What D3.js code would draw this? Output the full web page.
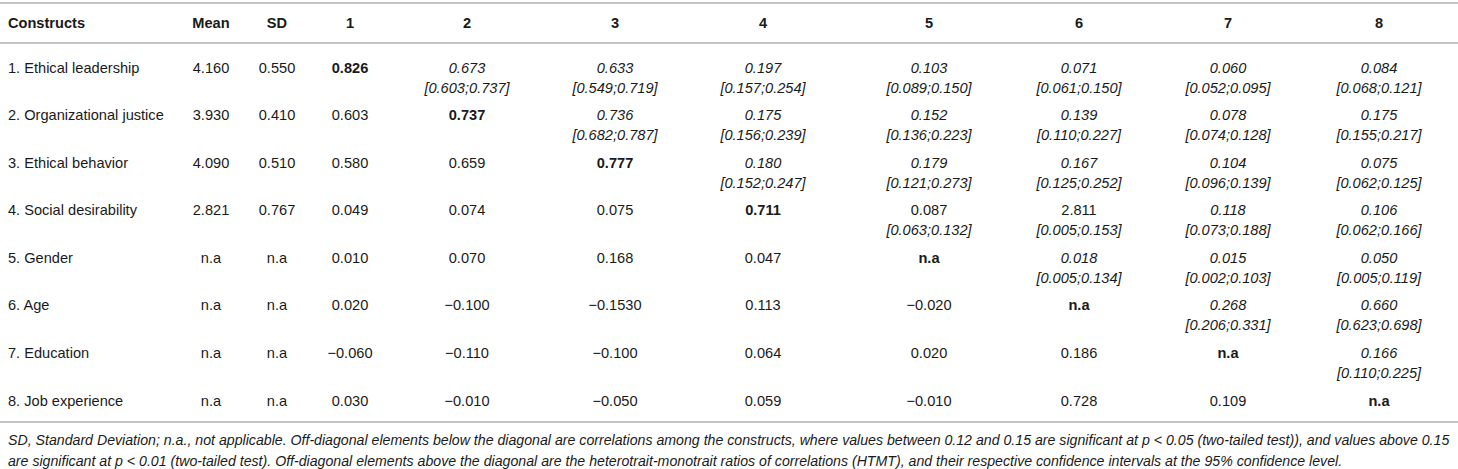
<!DOCTYPE html>
<html>
<head>
<meta charset="utf-8">
<script src="https://cdn.jsdelivr.net/npm/d3@7"></script>
<style>
  html, body { margin: 0; padding: 0; background: #fff; }
  svg { display: block; font-family: "Liberation Sans", Arial, Helvetica, sans-serif; }
</style>
</head>
<body>
<svg id="chart" width="1458" height="469"></svg>
<script>
// ---------- data ----------
const headers = ["Constructs", "Mean", "SD", "1", "2", "3", "4", "5", "6", "7", "8"];
const constructs = ["1. Ethical leadership", "2. Organizational justice", "3. Ethical behavior",
  "4. Social desirability", "5. Gender", "6. Age", "7. Education", "8. Job experience"];
const means = ["4.160", "3.930", "4.090", "2.821", "n.a", "n.a", "n.a", "n.a"];
const sds = ["0.550", "0.410", "0.510", "0.767", "n.a", "n.a", "n.a", "n.a"];
const diagonal = ["0.826", "0.737", "0.777", "0.711", "n.a", "n.a", "n.a", "n.a"];
// correlations below the diagonal (row i, columns 1..i-1)
const lowerCorr = [
  [],
  ["0.603"],
  ["0.580", "0.659"],
  ["0.049", "0.074", "0.075"],
  ["0.010", "0.070", "0.168", "0.047"],
  ["0.020", "\u22120.100", "\u22120.1530", "0.113", "\u22120.020"],
  ["\u22120.060", "\u22120.110", "\u22120.100", "0.064", "0.020", "0.186"],
  ["0.030", "\u22120.010", "\u22120.050", "0.059", "\u22120.010", "0.728", "0.109"]
];
// HTMT ratios above the diagonal (row i, columns i+1..8)
const htmtValues = [
  ["0.673", "0.633", "0.197", "0.103", "0.071", "0.060", "0.084"],
  ["0.736", "0.175", "0.152", "0.139", "0.078", "0.175"],
  ["0.180", "0.179", "0.167", "0.104", "0.075"],
  ["0.087", "2.811", "0.118", "0.106"],
  ["0.018", "0.015", "0.050"],
  ["0.268", "0.660"],
  ["0.166"],
  []
];
const htmtCI = [
  ["[0.603;0.737]", "[0.549;0.719]", "[0.157;0.254]", "[0.089;0.150]", "[0.061;0.150]", "[0.052;0.095]", "[0.068;0.121]"],
  ["[0.682;0.787]", "[0.156;0.239]", "[0.136;0.223]", "[0.110;0.227]", "[0.074;0.128]", "[0.155;0.217]"],
  ["[0.152;0.247]", "[0.121;0.273]", "[0.125;0.252]", "[0.096;0.139]", "[0.062;0.125]"],
  ["[0.063;0.132]", "[0.005;0.153]", "[0.073;0.188]", "[0.062;0.166]"],
  ["[0.005;0.134]", "[0.002;0.103]", "[0.005;0.119]"],
  ["[0.206;0.331]", "[0.623;0.698]"],
  ["[0.110;0.225]"],
  []
];
// HTMT values printed upright (not italic) in the source
const uprightHtmt = ["4-5", "4-6"];
const footnote = [
  "SD, Standard Deviation; n.a., not applicable. Off-diagonal elements below the diagonal are correlations among the constructs, where values between 0.12 and 0.15 are significant at p < 0.05 (two-tailed test)), and values above 0.15",
  "are significant at p < 0.01 (two-tailed test). Off-diagonal elements above the diagonal are the heterotrait-monotrait ratios of correlations (HTMT), and their respective confidence intervals at the 95% confidence level."
];

// ---------- layout ----------
const W = 1458;
const fontSize = 14.6;
const textColor = "#1a1a1a";
const ruleColor = "#c4c4c4";
const colCenters = [null, 211, 277, 350, 467, 615, 763, 929, 1079, 1228, 1379];
const xCol = d3.scaleOrdinal().domain(headers).range(colCenters);
const yRow = d3.scalePoint().domain(constructs).range([67.5, 400.5]);
const headerY = 23;
const lineGap = 20;

const svg = d3.select("#chart");

// rules
const rules = [3, 43, 422];
svg.selectAll("line.rule").data(rules).join("line")
  .attr("class", "rule")
  .attr("x1", 0).attr("x2", W)
  .attr("y1", d => d).attr("y2", d => d)
  .attr("stroke", ruleColor).attr("stroke-width", 2);

// header
svg.selectAll("text.hdr").data(headers).join("text")
  .attr("class", "hdr")
  .attr("x", (d, i) => i === 0 ? 8 : xCol(d))
  .attr("y", headerY).attr("dy", "0.35em")
  .attr("text-anchor", (d, i) => i === 0 ? "start" : "middle")
  .attr("font-size", fontSize).attr("font-weight", "bold")
  .attr("fill", textColor)
  .text(d => d);

// build cells
const cells = [];
constructs.forEach((c, i) => {
  cells.push({ row: c, col: "Constructs", lines: [c], anchor: "start" });
  cells.push({ row: c, col: "Mean", lines: [means[i]] });
  cells.push({ row: c, col: "SD", lines: [sds[i]] });
  lowerCorr[i].forEach((v, j) => cells.push({ row: c, col: String(j + 1), lines: [v] }));
  cells.push({ row: c, col: String(i + 1), lines: [diagonal[i]], bold: true });
  htmtValues[i].forEach((v, k) => {
    const j = i + 1 + k;
    const upright = uprightHtmt.includes((i + 1) + "-" + (j + 1));
    cells.push({ row: c, col: String(j + 1), lines: [v, htmtCI[i][k]], italic: !upright, ciItalic: true });
  });
});

const g = svg.append("g");
const cellSel = g.selectAll("text.cell").data(cells).join("text")
  .attr("class", "cell")
  .attr("x", d => d.col === "Constructs" ? 8 : xCol(d.col))
  .attr("y", d => yRow(d.row))
  .attr("text-anchor", d => d.anchor || "middle")
  .attr("font-size", fontSize)
  .attr("fill", textColor);

cellSel.each(function (d) {
  const t = d3.select(this);
  d.lines.forEach((ln, k) => {
    t.append("tspan")
      .attr("x", d.col === "Constructs" ? 8 : xCol(d.col))
      .attr("y", yRow(d.row) + k * lineGap)
      .attr("dy", "0.35em")
      .attr("font-weight", d.bold ? "bold" : "normal")
      .attr("font-style", (k === 0 ? d.italic : d.ciItalic) ? "italic" : "normal")
      .text(ln);
  });
});

// footnote
const fn = svg.selectAll("text.fn").data(footnote).join("text")
  .attr("class", "fn")
  .attr("x", 8)
  .attr("y", (d, i) => 440 + i * 21)
  .attr("dy", "0.35em")
  .attr("font-size", 13)
  .attr("font-style", "italic")
  .attr("fill", textColor)
  .text(d => d);
const w0 = fn.nodes()[0].getComputedTextLength();
const fsFit = 13 * (1442 / w0);
fn.attr("font-size", fsFit);
</script>
</body>
</html>
